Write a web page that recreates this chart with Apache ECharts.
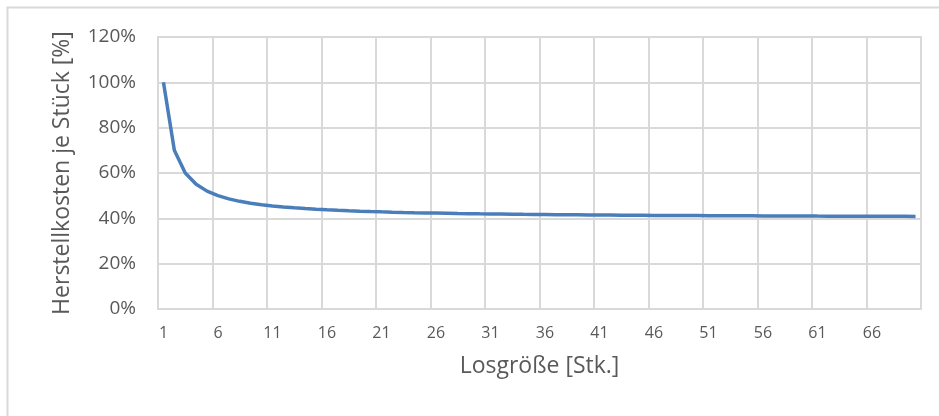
<!DOCTYPE html>
<html>
<head>
<meta charset="utf-8">
<script src="https://cdn.jsdelivr.net/npm/echarts@6/dist/echarts.min.js"></script>
<style>
    html, body { margin: 0; padding: 0; background: #fff; }
    #chart { width: 939px; height: 416px; }
</style>
</head>
<body>
<div id="chart"></div>
<script>
var lotSizes = [
    1, 2, 3, 4, 5, 6, 7, 8, 9, 10,
    11, 12, 13, 14, 15, 16, 17, 18, 19, 20,
    21, 22, 23, 24, 25, 26, 27, 28, 29, 30,
    31, 32, 33, 34, 35, 36, 37, 38, 39, 40,
    41, 42, 43, 44, 45, 46, 47, 48, 49, 50,
    51, 52, 53, 54, 55, 56, 57, 58, 59, 60,
    61, 62, 63, 64, 65, 66, 67, 68, 69, 70
];
// Herstellkosten je Stück in %
var costPerPiece = [
    100, 70, 60, 55, 52, 50, 48.57, 47.5, 46.67, 46,
    45.45, 45, 44.62, 44.29, 44, 43.75, 43.53, 43.33, 43.16, 43,
    42.86, 42.73, 42.61, 42.5, 42.4, 42.31, 42.22, 42.14, 42.07, 42,
    41.94, 41.88, 41.82, 41.76, 41.71, 41.67, 41.62, 41.58, 41.54, 41.5,
    41.46, 41.43, 41.4, 41.36, 41.33, 41.3, 41.28, 41.25, 41.22, 41.2,
    41.18, 41.15, 41.13, 41.11, 41.09, 41.07, 41.05, 41.03, 41.02, 41,
    40.98, 40.97, 40.95, 40.94, 40.92, 40.91, 40.9, 40.88, 40.87, 40.86
];
var yTicks = [0, 20, 40, 60, 80, 100, 120];

var chart = echarts.init(document.getElementById('chart'));
var gridColor = '#d9d9d9';
var textColor = '#595959';
var font = '"Open Sans", sans-serif';

var option = {
    animation: false,
    backgroundColor: '#fff',
    graphic: [{
        type: 'rect',
        shape: { x: 7.5, y: 7.5, width: 940, height: 420 },
        style: { fill: 'none', stroke: gridColor, lineWidth: 2 }
    }],
    grid: {
        left: 158,
        right: 18,
        top: 37,
        bottom: 107,
        show: true,
        borderColor: gridColor,
        borderWidth: 2
    },
    xAxis: {
        type: 'category',
        data: lotSizes,
        boundaryGap: true,
        name: 'Losgröße [Stk.]',
        nameLocation: 'middle',
        nameGap: 46,
        nameTextStyle: { color: textColor, fontSize: 23, fontFamily: font },
        axisLine: { lineStyle: { color: gridColor, width: 2 } },
        axisTick: { show: false },
        axisLabel: {
            interval: 4,
            margin: 16,
            color: textColor,
            fontSize: 16,
            fontFamily: font
        },
        splitLine: {
            show: true,
            interval: 4,
            lineStyle: { color: gridColor, width: 2 }
        }
    },
    yAxis: {
        type: 'value',
        min: yTicks[0],
        max: yTicks[yTicks.length - 1],
        interval: 20,
        name: 'Herstellkosten je Stück [%]',
        nameLocation: 'middle',
        nameGap: 84,
        nameTextStyle: { color: textColor, fontSize: 23, fontFamily: font },
        axisLine: { show: false },
        axisTick: { show: false },
        axisLabel: {
            margin: 22,
            color: textColor,
            fontSize: 19,
            fontFamily: font,
            formatter: '{value}%'
        },
        splitLine: { lineStyle: { color: gridColor, width: 2 } }
    },
    series: [{
        type: 'line',
        data: costPerPiece,
        showSymbol: false,
        smooth: false,
        lineStyle: { color: '#4a7ebb', width: 3.5 },
        itemStyle: { color: '#4a7ebb' }
    }]
};
chart.setOption(option);
</script>
</body>
</html>
